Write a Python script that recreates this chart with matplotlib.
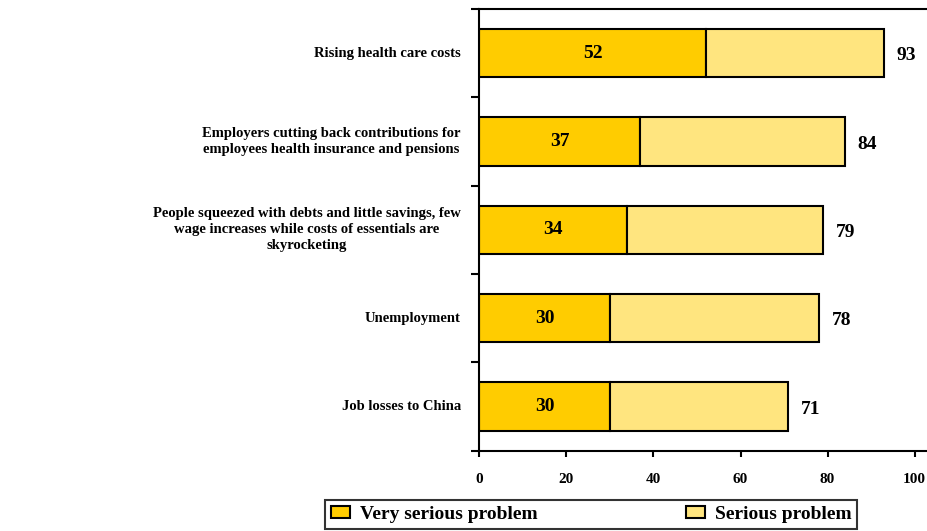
import matplotlib
matplotlib.use("Agg")
import matplotlib.pyplot as plt
import numpy as np

# Survey results: share of respondents calling each issue a problem (%)
categories = [
    "Rising health care costs",
    "Employers cutting back contributions for\nemployees health insurance and pensions",
    "People squeezed with debts and little savings, few\nwage increases while costs of essentials are\nskyrocketing",
    "Unemployment",
    "Job losses to China",
]
very_serious = [52, 37, 34, 30, 30]
totals = [93, 84, 79, 78, 71]
serious = [t - v for t, v in zip(totals, very_serious)]
series_names = ["Very serious problem", "Serious problem"]
x_ticks = [0, 20, 40, 60, 80, 100]

dark = "#FFCC00"
light = "#FFE57F"
serif = "Liberation Serif"

fig = plt.figure(figsize=(9.28, 5.31), dpi=100)
ax = fig.add_axes([0.5165, 0.1512, 0.4835, 0.8318])

y = np.arange(len(categories))
h = 0.55
b1 = ax.barh(y, very_serious, height=h, color=dark, edgecolor="black",
             linewidth=1.5, label=series_names[0])
b2 = ax.barh(y, serious, left=very_serious, height=h, color=light,
             edgecolor="black", linewidth=1.5, label=series_names[1])

# value inside the "very serious" segment
for yi, v in zip(y, very_serious):
    ax.text(v / 2, yi, str(v), ha="center", va="center", fontsize=14,
            fontweight="bold", family=serif)

# total at the end of each bar
for yi, t in zip(y, totals):
    ax.annotate(str(t), xy=(t, yi), xytext=(9, -2), textcoords="offset points",
                ha="left", va="center", fontsize=14, fontweight="bold",
                family=serif)

ax.set_xlim(0, 103.06)
ax.set_ylim(len(categories) - 0.5, -0.5)

ax.set_xticks(x_ticks)
ax.set_xticklabels([str(t) for t in x_ticks], fontsize=11,
                   fontweight="bold", family=serif)
ax.tick_params(axis="x", direction="out", length=4, width=1.5, pad=12)

# category labels centred on bars, ticks on the boundaries between them
ax.set_yticks(np.arange(-0.5, len(categories), 1.0))
ax.set_yticklabels([])
ax.tick_params(axis="y", direction="out", length=6, width=1.5)
for yi, c in zip(y, categories):
    ax.text(-0.041, yi, c, transform=ax.get_yaxis_transform(), ha="right",
            va="center", multialignment="center", fontsize=10.5,
            fontweight="bold", family=serif, linespacing=1.3)

for side in ["left", "bottom", "top"]:
    ax.spines[side].set_linewidth(1.5)
ax.spines["right"].set_visible(False)

leg = fig.legend(handles=[b1, b2], labels=series_names, loc="lower left",
                 bbox_to_anchor=(0.350, 0.004, 0.574, 0.053), mode="expand",
                 ncol=2, frameon=True, fancybox=False, edgecolor="black",
                 borderaxespad=0, handlelength=1.0, handleheight=0.55,
                 handletextpad=0.5, borderpad=0.3,
                 prop={"family": serif, "weight": "bold", "size": 14})
leg.get_frame().set_linewidth(1.5)

fig.savefig("out.png", dpi=100)
